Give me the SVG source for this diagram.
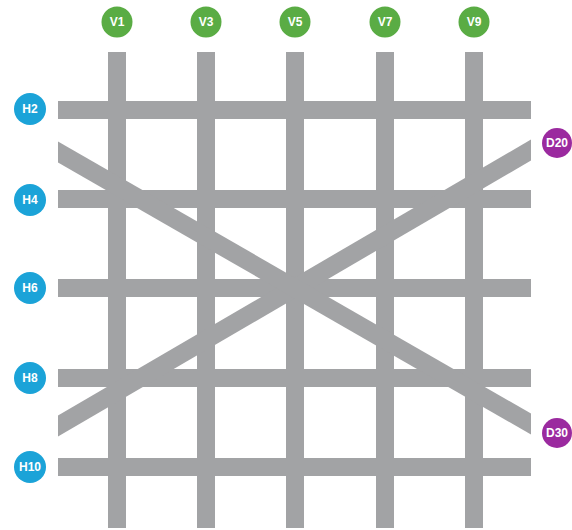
<svg xmlns="http://www.w3.org/2000/svg" width="572" height="530" viewBox="0 0 572 530">
<style>
.bar{stroke:#a2a3a5;stroke-width:18;fill:none;stroke-linecap:butt}
.diag{fill:#a2a3a5;stroke:none}
.v{fill:#5aac44}
.h{fill:#1ba3d8}
.d{fill:#9b2a9f}
.t{fill:#ffffff;font-family:"Liberation Sans",Arial,sans-serif;font-weight:bold;font-size:12px;text-anchor:middle;dominant-baseline:central}
</style>
<rect width="572" height="530" fill="#ffffff"/>
<g id="connectors">
<line class="bar" x1="58" y1="110" x2="531" y2="110"/>
<line class="bar" x1="58" y1="199" x2="531" y2="199"/>
<line class="bar" x1="58" y1="288" x2="531" y2="288"/>
<line class="bar" x1="58" y1="378" x2="531" y2="378"/>
<line class="bar" x1="58" y1="467" x2="531" y2="467"/>
<line class="bar" x1="117" y1="52" x2="117" y2="528"/>
<line class="bar" x1="206" y1="52" x2="206" y2="528"/>
<line class="bar" x1="295" y1="52" x2="295" y2="528"/>
<line class="bar" x1="385" y1="52" x2="385" y2="528"/>
<line class="bar" x1="474" y1="52" x2="474" y2="528"/>
<polygon class="diag" points="58,415.5 531,139.5 531,160.5 58,436.5"/>
<polygon class="diag" points="58,141.5 531,413.5 531,434.5 58,162.5"/>
</g>
<g id="V1"><circle class="v" cx="117" cy="22" r="15.5"/><text class="t" x="117" y="22">V1</text></g>
<g id="V3"><circle class="v" cx="206" cy="22" r="15.5"/><text class="t" x="206" y="22">V3</text></g>
<g id="V5"><circle class="v" cx="295" cy="22" r="15.5"/><text class="t" x="295" y="22">V5</text></g>
<g id="V7"><circle class="v" cx="385" cy="22" r="15.5"/><text class="t" x="385" y="22">V7</text></g>
<g id="V9"><circle class="v" cx="474" cy="22" r="15.5"/><text class="t" x="474" y="22">V9</text></g>
<g id="H2"><circle class="h" cx="30" cy="109" r="16"/><text class="t" x="30" y="109">H2</text></g>
<g id="H4"><circle class="h" cx="30" cy="200" r="16"/><text class="t" x="30" y="200">H4</text></g>
<g id="H6"><circle class="h" cx="30" cy="288" r="16"/><text class="t" x="30" y="288">H6</text></g>
<g id="H8"><circle class="h" cx="30" cy="378" r="16"/><text class="t" x="30" y="378">H8</text></g>
<g id="H10"><circle class="h" cx="30" cy="467" r="16"/><text class="t" x="30" y="467">H10</text></g>
<g id="D20"><circle class="d" cx="557" cy="143" r="15"/><text class="t" x="557" y="143">D20</text></g>
<g id="D30"><circle class="d" cx="557" cy="433" r="15"/><text class="t" x="557" y="433">D30</text></g>
</svg>
